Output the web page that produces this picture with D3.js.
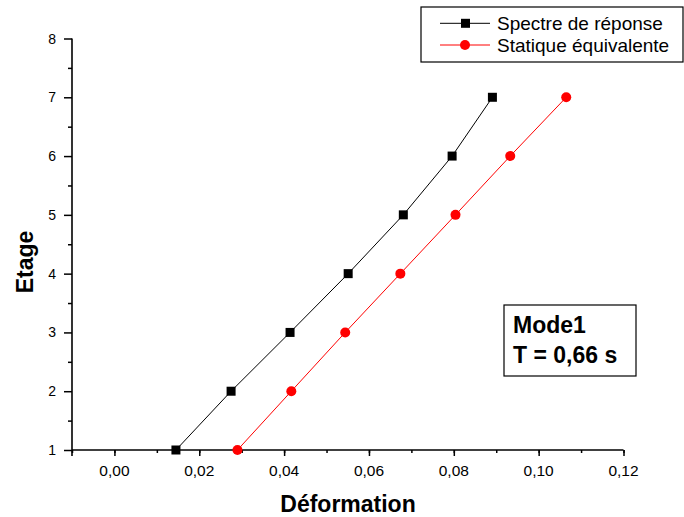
<!DOCTYPE html>
<html>
<head>
<meta charset="utf-8">
<script src="https://cdn.jsdelivr.net/npm/d3@7"></script>
<style>
  body { margin: 0; background: #fff; }
  text { font-family: "Liberation Sans", Arial, sans-serif; }
</style>
</head>
<body>
<div id="chart"></div>
<script>
//Chart data
var etages = [1, 2, 3, 4, 5, 6, 7];
var spectre = [0.0145, 0.0275, 0.0414, 0.0551, 0.0681, 0.0796, 0.0891];
var statique = [0.0290, 0.0417, 0.0544, 0.0674, 0.0804, 0.0933, 0.1065];
var xTicks = [0, 0.02, 0.04, 0.06, 0.08, 0.10, 0.12];
var yTicks = [1, 2, 3, 4, 5, 6, 7, 8];
var seriesNames = ["Spectre de réponse", "Statique équivalente"];

var width = 684, height = 517;
var svg = d3.select("#chart").append("svg")
    .attr("width", width).attr("height", height);

//Scales
var x = d3.scaleLinear().domain([-0.01, 0.12]).range([72, 623.5]);
var y = d3.scaleLinear().domain([1, 8]).range([450, 38.5]);

var fmt = function(d){ return d3.format(".2f")(d).replace(".", ","); };

//Bottom axis (minor ticks, then major ticks)
var xAxis = svg.append("g").attr("transform", "translate(0,450)");
xAxis.call(d3.axisBottom(x).tickValues(d3.range(-0.01, 0.1201, 0.01))
    .tickSize(3).tickFormat(""));
xAxis.selectAll(".tick line").attr("stroke-width", 1.5);
xAxis.select(".domain").attr("stroke-width", 1.6)
    .attr("d", "M" + x(-0.01) + ",0H" + x(0.12));
var xMajor = svg.append("g").attr("transform", "translate(0,450)");
xMajor.call(d3.axisBottom(x).tickValues(xTicks).tickSize(6).tickFormat(""));
xMajor.select(".domain").remove();
xMajor.selectAll(".tick line").attr("stroke-width", 1.5);

//X tick labels
svg.selectAll("text.xlab").data(xTicks).enter().append("text")
    .attr("class", "xlab")
    .attr("x", function(d){ return x(d); })
    .attr("y", 476)
    .attr("text-anchor", "middle")
    .attr("font-size", 15.5)
    .text(fmt);

//Left axis
var yMinor = svg.append("g").attr("transform", "translate(72,0)");
yMinor.call(d3.axisLeft(y).tickValues(d3.range(1.5, 8, 1)).tickSize(4).tickFormat(""));
yMinor.select(".domain").remove();
yMinor.selectAll(".tick line").attr("stroke-width", 1.5);
var yAxis = svg.append("g").attr("transform", "translate(72,0)");
yAxis.call(d3.axisLeft(y).tickValues(yTicks).tickSize(8).tickFormat(""));
yAxis.select(".domain").attr("stroke-width", 1.6)
    .attr("d", "M0," + y(8) + "V" + (y(1) + 6));
yAxis.selectAll(".tick line").attr("stroke-width", 1.5);

//Y tick labels
svg.selectAll("text.ylab").data(yTicks).enter().append("text")
    .attr("class", "ylab")
    .attr("x", 56)
    .attr("y", function(d){ return y(d) + 5; })
    .attr("text-anchor", "end")
    .attr("font-size", 14)
    .text(function(d){ return d; });

//Axis titles
svg.append("text").attr("x", 348).attr("y", 512).attr("text-anchor", "middle")
    .attr("font-size", 23).attr("font-weight", "bold").text("Déformation");
svg.append("text").attr("transform", "translate(33,262) rotate(-90)")
    .attr("text-anchor", "middle").attr("font-size", 23).attr("font-weight", "bold").text("Etage");

//Series
var line = d3.line().x(function(d){ return x(d[0]); }).y(function(d){ return y(d[1]); });
var data1 = d3.zip(spectre, etages);
var data2 = d3.zip(statique, etages);

svg.append("path").datum(data1).attr("d", line)
    .attr("fill", "none").attr("stroke", "#000").attr("stroke-width", 1);
svg.append("path").datum(data2).attr("d", line)
    .attr("fill", "none").attr("stroke", "#ff0000").attr("stroke-width", 1);

svg.selectAll("rect.sq").data(data1).enter().append("rect")
    .attr("class", "sq")
    .attr("x", function(d){ return x(d[0]) - 4.5; })
    .attr("y", function(d){ return y(d[1]) - 4.5; })
    .attr("width", 9).attr("height", 9).attr("fill", "#000");
svg.selectAll("circle.pt").data(data2).enter().append("circle")
    .attr("class", "pt")
    .attr("cx", function(d){ return x(d[0]); })
    .attr("cy", function(d){ return y(d[1]); })
    .attr("r", 5).attr("fill", "#ff0000");

//Legend
var legend = svg.append("g");
legend.append("rect").attr("x", 421).attr("y", 7).attr("width", 262).attr("height", 55)
    .attr("fill", "#fff").attr("stroke", "#000").attr("stroke-width", 1.2);
var colors = ["#000", "#ff0000"];
seriesNames.forEach(function(name, i){
  var cy = 23.3 + i * 21.7;
  legend.append("line").attr("x1", 440).attr("x2", 490).attr("y1", cy).attr("y2", cy)
      .attr("stroke", colors[i]).attr("stroke-width", 1);
  if(i == 0){
    legend.append("rect").attr("x", 461).attr("y", cy - 4.5).attr("width", 9).attr("height", 9)
        .attr("fill", "#000");
  }
  else{
    legend.append("circle").attr("cx", 465).attr("cy", cy).attr("r", 5).attr("fill", "#ff0000");
  }
  legend.append("text").attr("x", 497).attr("y", cy + 6.7).attr("font-size", 19).text(name);
});

//Annotation box
svg.append("rect").attr("x", 504).attr("y", 305).attr("width", 132).attr("height", 71)
    .attr("fill", "#fff").attr("stroke", "#000").attr("stroke-width", 1.2);
svg.append("text").attr("x", 513).attr("y", 333.3).attr("font-size", 23).attr("font-weight", "bold").text("Mode1");
svg.append("text").attr("x", 513).attr("y", 363.3).attr("font-size", 23).attr("font-weight", "bold").text("T = 0,66 s");
</script>
</body>
</html>
